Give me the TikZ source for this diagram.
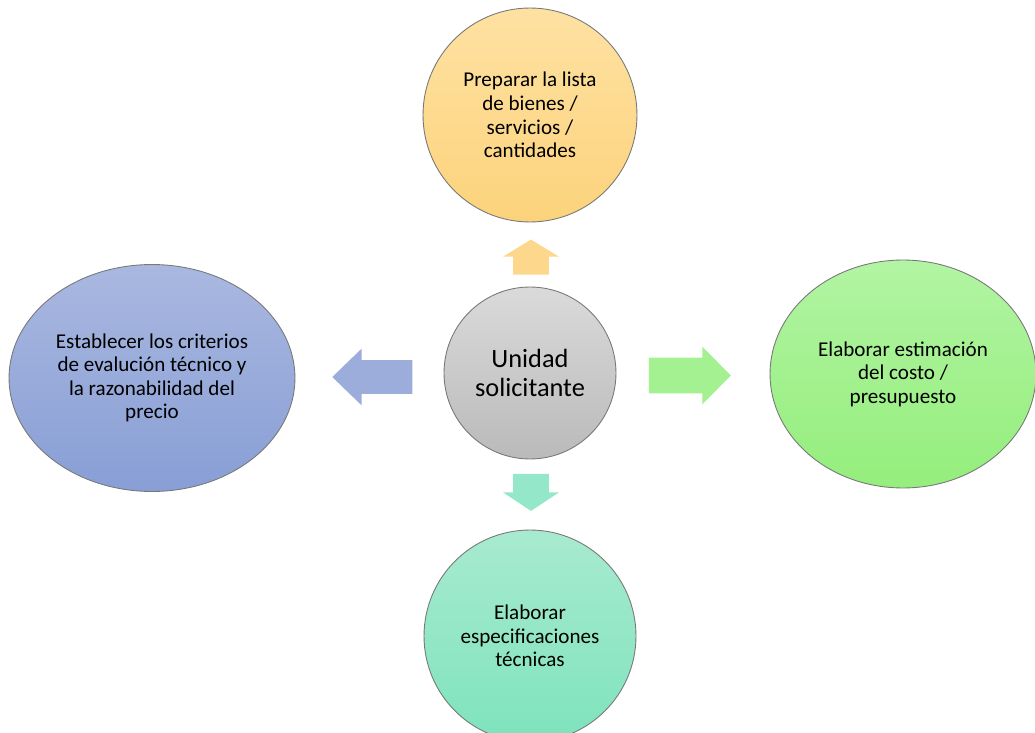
\documentclass[tikz,border=0pt]{standalone}
\usepackage{fontspec}
\setmainfont{Carlito}
\usetikzlibrary{shapes.geometric,shapes.arrows}

\definecolor{orangeTop}{RGB}{254,225,162}
\definecolor{orangeBot}{RGB}{252,211,124}
\definecolor{grayTop}{RGB}{218,218,218}
\definecolor{grayBot}{RGB}{186,186,186}
\definecolor{blueTop}{RGB}{169,184,224}
\definecolor{blueBot}{RGB}{136,158,213}
\definecolor{greenTop}{RGB}{178,244,163}
\definecolor{greenBot}{RGB}{148,238,124}
\definecolor{mintTop}{RGB}{168,234,208}
\definecolor{mintBot}{RGB}{126,227,189}
\definecolor{rimGray}{RGB}{120,120,120}
\definecolor{orangeArrow}{RGB}{253,216,140}
\definecolor{blueArrow}{RGB}{156,173,219}
\definecolor{greenArrow}{RGB}{164,241,146}
\definecolor{mintArrow}{RGB}{148,231,200}

\begin{document}
\begin{tikzpicture}[x=0.02cm,y=-0.02cm]
			\tikzset{bubble/.style={circle,draw=rimGray,line width=0.5pt,inner sep=0pt,align=center,font=\fontsize{12}{13.4}\selectfont},
				oval/.style={ellipse,draw=rimGray,line width=0.5pt,inner sep=0pt,align=center,font=\fontsize{12}{13.4}\selectfont},
				blockarrow/.style={single arrow,inner sep=0pt,draw=none,text width=0pt,text depth=0pt}}
			\useasboundingbox (0,0) rectangle (1035,733);
			\clip (0,0) rectangle (1035,733);
			\fill[white] (0,0) rectangle (1035,733);

			\draw (530,373) node [bubble, minimum size=3.44cm, top color=grayTop, bottom color=grayBot, font=\fontsize{15}{17}\selectfont] (unidad) {Unidad\\solicitante};
			\draw (530,115) node [bubble, minimum size=4.28cm, top color=orangeTop, bottom color=orangeBot] (lista) {Preparar la lista\\de bienes /\\servicios /\\cantidades};
			\draw (152,378) node [oval, minimum width=5.72cm, minimum height=4.54cm, top color=blueTop, bottom color=blueBot] (criterios) {Establecer los criterios\\de evalución técnico y\\la razonabilidad del\\precio};
			\draw (903,374) node [oval, minimum width=5.32cm, minimum height=4.56cm, top color=greenTop, bottom color=greenBot] (costo) {Elaborar estimación\\del costo /\\presupuesto};
			\draw (530,636) node [bubble, minimum size=4.24cm, top color=mintTop, bottom color=mintBot] (especif) {Elaborar\\especificaciones\\técnicas};

			\draw (531,262.5) node [blockarrow, rotate=90, text height=0.7cm, minimum height=0.7cm, single arrow head extend=0.2cm, single arrow tip angle=117, fill=orangeArrow] (flechaA) {};
			\draw (381,377) node [blockarrow, rotate=180, text height=0.66cm, minimum height=1.6cm, single arrow head extend=0.23cm, single arrow tip angle=88, fill=blueArrow] (flechaB) {};
			\draw (681,375.5) node [blockarrow, text height=0.7cm, minimum height=1.64cm, single arrow head extend=0.22cm, single arrow tip angle=91, fill=greenArrow] (flechaC) {};
			\draw (531,486.5) node [blockarrow, rotate=-90, text height=0.7cm, minimum height=0.74cm, single arrow head extend=0.2cm, single arrow tip angle=113, fill=mintArrow] (flechaD) {};
		\end{tikzpicture}
\end{document}
